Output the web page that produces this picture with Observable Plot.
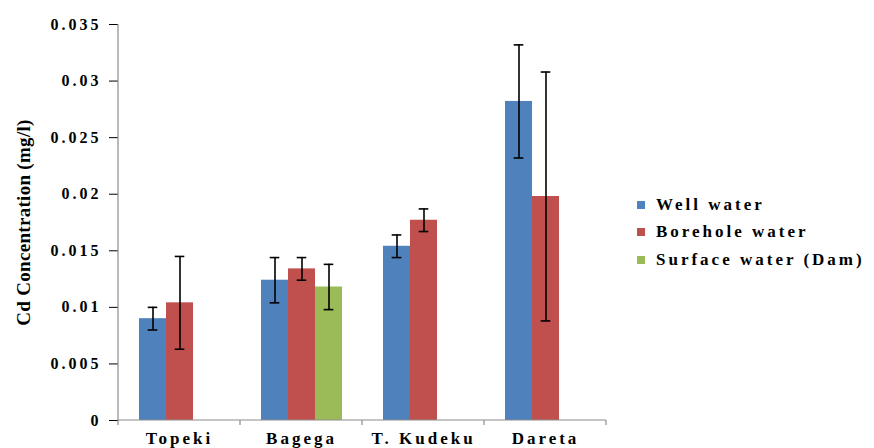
<!DOCTYPE html>
<html>
<head>
<meta charset="utf-8">
<script src="https://cdn.jsdelivr.net/npm/d3@7"></script>
<script src="https://cdn.jsdelivr.net/npm/@observablehq/plot@0.6"></script>
<style>
  html, body { margin: 0; padding: 0; background: #fff; }
  #wrap { position: relative; width: 874px; height: 448px; overflow: hidden; }
  #chart { position: absolute; left: 0; top: 0; }
  #legend { position: absolute; left: 637px; top: 191px; font-family: "Liberation Serif", serif; font-weight: bold; font-size: 17px; letter-spacing: 3px; color: #000; }
  #legend .row { display: flex; align-items: center; height: 27.5px; }
  #legend .sw { width: 8px; height: 8px; margin-right: 11px; }
</style>
</head>
<body>
<div id="wrap"><div id="chart"></div><div id="legend"></div></div>
<script>
const sites = ["Topeki", "Bagega", "T. Kudeku", "Dareta"];
const seriesNames = ["Well water", "Borehole water", "Surface water (Dam)"];
const wellValues = [0.0090, 0.0124, 0.0154, 0.0282];
const wellErrors = [0.0010, 0.0020, 0.0010, 0.0050];
const boreholeValues = [0.0104, 0.0134, 0.0177, 0.0198];
const boreholeErrors = [0.0041, 0.0010, 0.0010, 0.0110];
const surfaceValues = [null, 0.0118, null, null];
const surfaceErrors = [null, 0.0020, null, null];
const seriesColors = ["#4F81BD", "#C0504D", "#9BBB59"];
const yTicks = [0, 0.005, 0.01, 0.015, 0.02, 0.025, 0.03, 0.035];
const yTickLabels = ["0", "0.005", "0.01", "0.015", "0.02", "0.025", "0.03", "0.035"];
const yLabel = "Cd Concentration (mg/l)";

const valueSets = [wellValues, boreholeValues, surfaceValues];
const errorSets = [wellErrors, boreholeErrors, surfaceErrors];
const rows = [];
sites.forEach((site, i) => {
  seriesNames.forEach((s, j) => {
    const v = valueSets[j][i];
    if (v == null) return;
    const e = errorSets[j][i];
    rows.push({site, series: s, value: v, lo: v - e, hi: v + e});
  });
});

const plot = Plot.plot({
  width: 620,
  height: 448,
  marginLeft: 117,
  marginRight: 14,
  marginTop: 24,
  marginBottom: 28,
  style: {fontFamily: "Liberation Serif, serif", fontWeight: "bold", background: "#fff"},
  fx: {domain: sites, paddingInner: 0, paddingOuter: 0, label: null, tickSize: 0, tickPadding: 11},
  x: {domain: seriesNames, paddingInner: 0, paddingOuter: 0.73, axis: null},
  y: {domain: [0, 0.035], ticks: yTicks, tickFormat: (d) => yTickLabels[yTicks.indexOf(d)] ?? "",
      tickSize: 9, tickPadding: 8, label: yLabel, labelAnchor: "center", labelArrow: "none", labelOffset: 102},
  color: {domain: seriesNames, range: seriesColors},
  marks: [
    Plot.barY(rows, {fx: "site", x: "series", y: "value", fill: "series"}),
    Plot.ruleX(rows, {fx: "site", x: "series", y1: "lo", y2: "hi", stroke: "#000", strokeWidth: 1.6}),
    Plot.tickY(rows, {fx: "site", x: "series", y: "lo", stroke: "#000", strokeWidth: 1.6, insetLeft: 8.7, insetRight: 8.7}),
    Plot.tickY(rows, {fx: "site", x: "series", y: "hi", stroke: "#000", strokeWidth: 1.6, insetLeft: 8.7, insetRight: 8.7})
  ]
});
document.getElementById("chart").appendChild(plot);

// axis lines and category boundary ticks using the plot's own scales
const fx = plot.scale("fx");
const ys = plot.scale("y");
const svg = d3.select(plot);
const y0 = ys.apply(0), yTop = ys.apply(0.035);
const left = fx.apply(sites[0]);
const right = fx.apply(sites[sites.length - 1]) + fx.bandwidth;
const g = svg.append("g").attr("stroke", "#8c8c8c").attr("stroke-width", 1.2);
g.append("line").attr("x1", left).attr("x2", left).attr("y1", yTop).attr("y2", y0);
g.append("line").attr("x1", left).attr("x2", right).attr("y1", y0).attr("y2", y0);
const bounds = sites.map((s) => fx.apply(s)).concat([right]);
bounds.forEach((b) => g.append("line").attr("x1", b).attr("x2", b).attr("y1", y0).attr("y2", y0 + 5));

// text styling
svg.selectAll("[aria-label='y-axis tick label']").attr("font-size", 16).style("font-size", "16px").style("letter-spacing", "3px");
svg.selectAll("[aria-label='fx-axis tick label']").attr("font-size", 17).style("font-size", "17px").style("letter-spacing", "3px");
svg.selectAll("[aria-label='y-axis label']").attr("font-size", 19).style("font-size", "19px").style("letter-spacing", "0.3px");
svg.selectAll("[aria-label='y-axis label'] text").attr("font-size", 19).style("font-size", "19px");
svg.selectAll("[aria-label='y-axis tick']").attr("stroke", "#8c8c8c");

// legend
const legend = d3.select("#legend");
seriesNames.forEach((s, i) => {
  const r = legend.append("div").attr("class", "row");
  r.append("div").attr("class", "sw").style("background", seriesColors[i]);
  r.append("span").text(s);
});
</script>
</body>
</html>
